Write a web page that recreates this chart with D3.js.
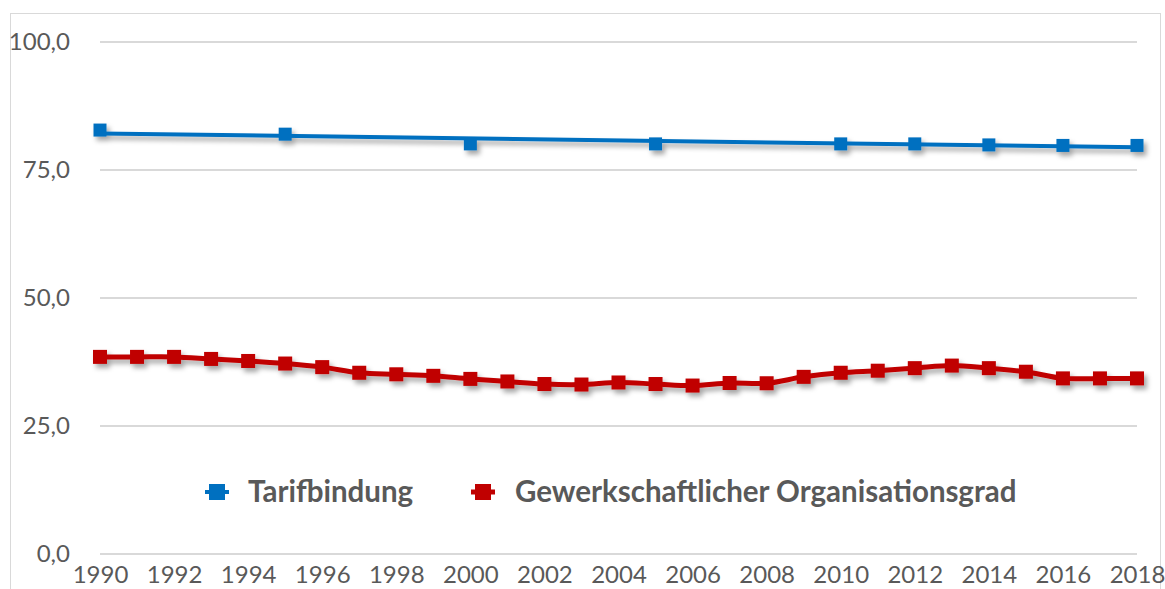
<!DOCTYPE html>
<html><head><meta charset="utf-8">
<script src="https://cdn.jsdelivr.net/npm/d3@7"></script>
<style>body{margin:0;background:#fff;} svg{display:block;}</style>
</head><body>
<script>
const years = d3.range(1990, 2019);
const tickYears = [1990,1992,1994,1996,1998,2000,2002,2004,2006,2008,2010,2012,2014,2016,2018];
const yTicks = [0,25,50,75,100];
const tarifYears = [1990,1995,2000,2005,2010,2012,2014,2016,2018];
const tarifValues = [82.8,82.0,80.1,80.1,80.1,80.1,79.9,79.8,79.8];
const orgValues = [38.5,38.5,38.5,38.1,37.7,37.2,36.5,35.4,35.1,34.8,34.2,33.7,33.2,33.1,33.5,33.2,32.9,33.4,33.35,34.6,35.4,35.8,36.3,36.8,36.3,35.6,34.3,34.3,34.3];
const seriesNames = ["Tarifbindung","Gewerkschaftlicher Organisationsgrad"];
const colors = ["#0070c0","#c00000"];

const W=1165,H=589;
const svg=d3.select("body").append("svg").attr("width",W).attr("height",H);
const defs=svg.append("defs");
const f=defs.append("filter").attr("id","sh").attr("x","-20%").attr("y","-50%").attr("width","140%").attr("height","250%");
f.append("feDropShadow").attr("dx",3).attr("dy",4).attr("stdDeviation",2.5).attr("flood-color","#000").attr("flood-opacity",0.35);

svg.append("rect").attr("x",10.5).attr("y",13.5).attr("width",1150).attr("height",600).attr("fill","#fff").attr("stroke","#d9d9d9").attr("stroke-width",1);

const x=d3.scaleLinear().domain([1990,2018]).range([100,1137]);
const y=d3.scaleLinear().domain([0,100]).range([554,42]);
const font="Lato, 'Open Sans', sans-serif";

// grid
svg.append("g").selectAll("line").data(yTicks).join("line")
 .attr("x1",100).attr("x2",1137).attr("y1",d=>y(d)).attr("y2",d=>y(d))
 .attr("stroke","#d9d9d9").attr("stroke-width",2);

// y axis labels
const yAxis=d3.axisLeft(y).tickValues(yTicks).tickSize(0).tickPadding(0)
 .tickFormat(d=>d3.format(".1f")(d).replace(".",","));
const gy=svg.append("g").attr("transform","translate(70,0)").call(yAxis);
gy.select(".domain").remove();
gy.selectAll("text").attr("font-family",font).attr("font-size",24).attr("fill","#595959");

// x axis labels
const xAxis=d3.axisBottom(x).tickValues(tickYears).tickSize(0).tickPadding(0).tickFormat(d3.format("d"));
const gx=svg.append("g").attr("transform","translate(0,566)").call(xAxis);
gx.select(".domain").remove();
gx.selectAll("text").attr("font-family",font).attr("font-size",24).attr("fill","#595959");

// trendline for Tarifbindung (linear regression of its data)
const mx=d3.mean(tarifYears), my=d3.mean(tarifValues);
const slope=d3.sum(tarifYears,(t,i)=>(t-mx)*(tarifValues[i]-my))/d3.sum(tarifYears,t=>(t-mx)*(t-mx));
const trend=t=>my+slope*(t-mx);
const trendPts=[1990,2018].map(t=>[t,trend(t)]);

const gB=svg.append("g").attr("filter","url(#sh)");
gB.append("path").datum(trendPts).attr("fill","none").attr("stroke",colors[0]).attr("stroke-width",4)
 .attr("d",d3.line().x(d=>x(d[0])).y(d=>y(d[1])));
gB.selectAll("rect").data(tarifYears.map((t,i)=>[t,tarifValues[i]])).join("rect")
 .attr("x",d=>x(d[0])-6.5).attr("y",d=>y(d[1])-6.5).attr("width",13).attr("height",13).attr("fill",colors[0]);

const orgPts=years.map((t,i)=>[t,orgValues[i]]);
const gR=svg.append("g").attr("filter","url(#sh)");
gR.append("path").datum(orgPts).attr("fill","none").attr("stroke",colors[1]).attr("stroke-width",5)
 .attr("d",d3.line().curve(d3.curveCatmullRom.alpha(0.5)).x(d=>x(d[0])).y(d=>y(d[1])));
gR.selectAll("rect").data(orgPts).join("rect")
 .attr("x",d=>x(d[0])-7).attr("y",d=>y(d[1])-7).attr("width",14).attr("height",14).attr("fill",colors[1]);

// legend
const leg=[{x:217,tx:248},{x:483,tx:515}];
seriesNames.forEach((n,i)=>{
  const g=svg.append("g");
  g.append("line").attr("x1",leg[i].x-12).attr("x2",leg[i].x+12).attr("y1",492).attr("y2",492).attr("stroke",colors[i]).attr("stroke-width",i?5:4);
  g.append("rect").attr("x",leg[i].x-8).attr("y",484).attr("width",16).attr("height",16).attr("fill",colors[i]);
  g.append("text").attr("x",leg[i].tx).attr("y",492).attr("dy","0.35em").attr("font-family",font).attr("font-weight","bold")
   .attr("font-size",29.5).attr("fill","#595959").text(n);
});
</script>
</body></html>
